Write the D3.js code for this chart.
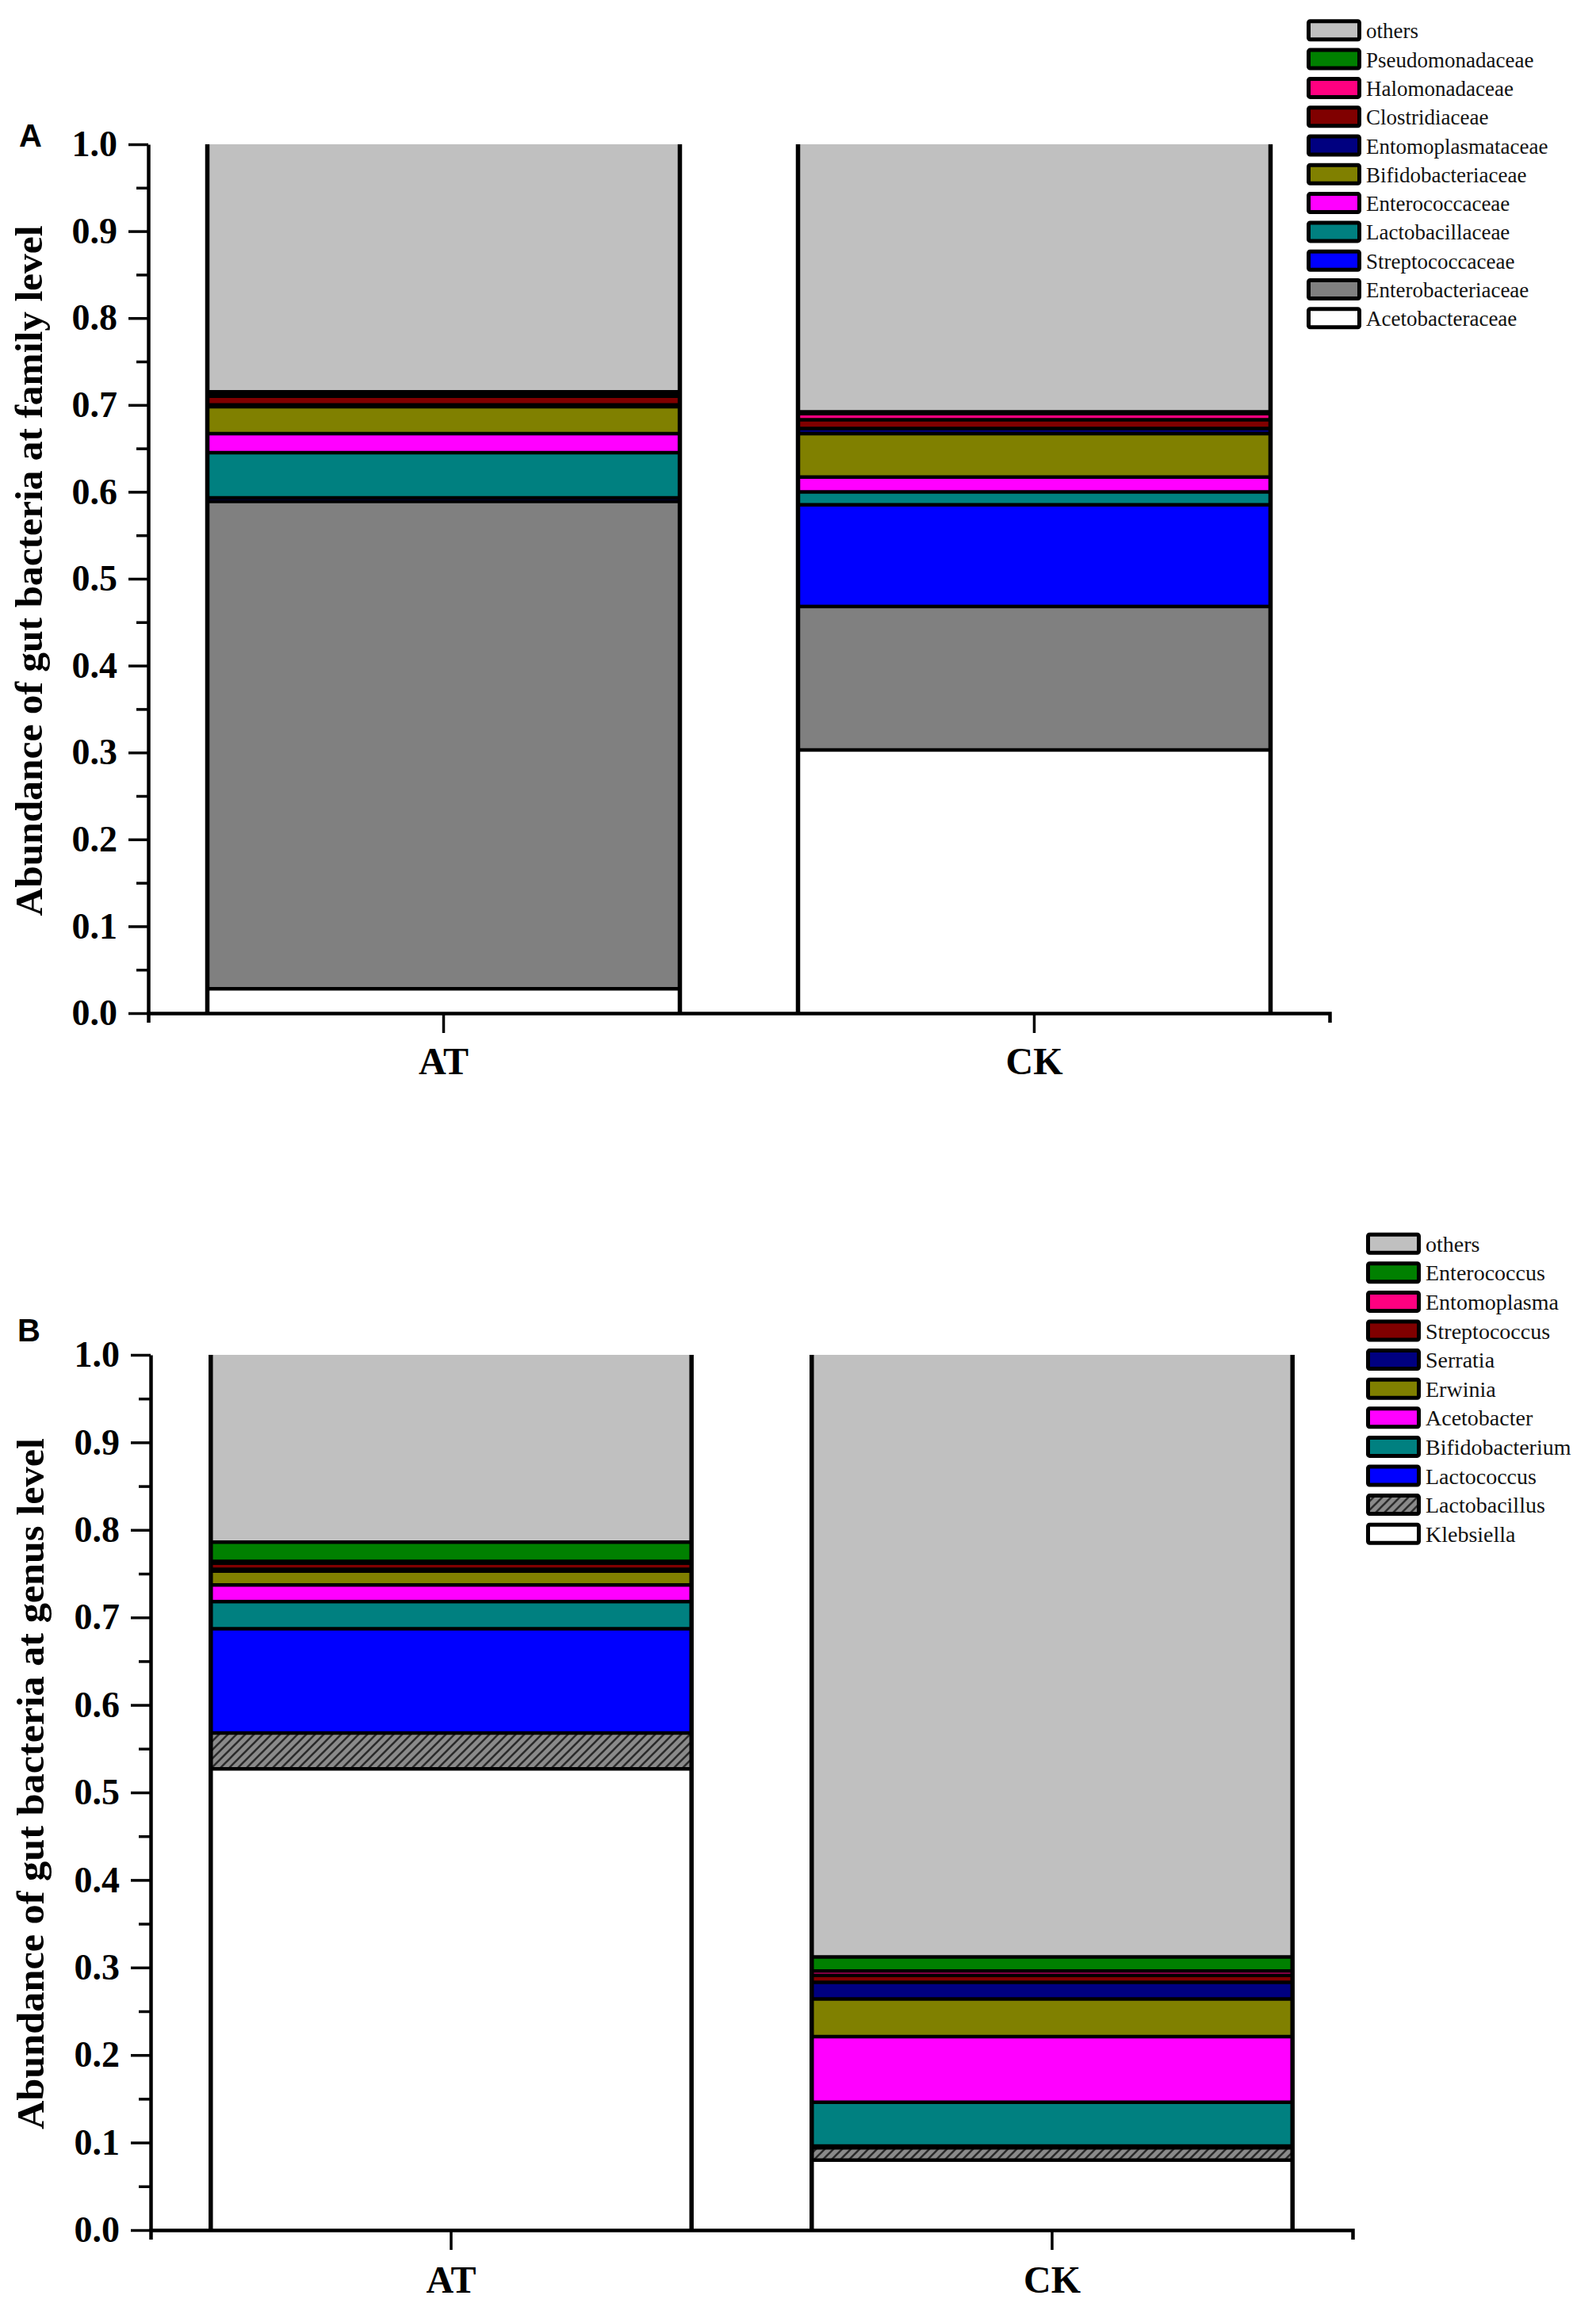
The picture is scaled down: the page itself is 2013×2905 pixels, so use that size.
<!DOCTYPE html>
<html><head><meta charset="utf-8">
<script src="https://cdn.jsdelivr.net/npm/d3@7"></script>
<style>body{margin:0;background:#fff}</style>
</head><body>
<svg id="chart" width="2013" height="2905" xmlns="http://www.w3.org/2000/svg"></svg>
<script>
// ---------- data ----------
const groups = ["AT", "CK"];

// family level, stacked bottom -> top
const familyNames = ["Acetobacteraceae","Enterobacteriaceae","Streptococcaceae","Lactobacillaceae","Enterococcaceae","Bifidobacteriaceae","Entomoplasmataceae","Clostridiaceae","Halomonadaceae","Pseudomonadaceae","others"];
const familyAT = [0.028, 0.561, 0.004, 0.052, 0.022, 0.031, 0.002, 0.010, 0.002, 0.003, 0.285];
const familyCK = [0.303, 0.165, 0.117, 0.015, 0.017, 0.050, 0.006, 0.010, 0.007, 0.002, 0.308];
const familyColors = ["#FFFFFF","#808080","#0000FF","#008080","#FF00FF","#808000","#000080","#800000","#FF0080","#008000","#C0C0C0"];

// genus level, stacked bottom -> top
const genusNames = ["Klebsiella","Lactobacillus","Lactococcus","Bifidobacterium","Acetobacter","Erwinia","Serratia","Streptococcus","Entomoplasma","Enterococcus","others"];
const genusAT = [0.527, 0.041, 0.119, 0.031, 0.019, 0.016, 0.002, 0.007, 0.002, 0.022, 0.214];
const genusCK = [0.080, 0.014, 0.002, 0.050, 0.075, 0.043, 0.019, 0.008, 0.005, 0.016, 0.688];
const genusColors = ["#FFFFFF","url(#hatch)","#0000FF","#008080","#FF00FF","#808000","#000080","#800000","#FF0080","#008000","#C0C0C0"];

const yMajorTicks = [0.0,0.1,0.2,0.3,0.4,0.5,0.6,0.7,0.8,0.9,1.0];
const yMinorTicks = [0.05,0.15,0.25,0.35,0.45,0.55,0.65,0.75,0.85,0.95];

// ---------- drawing ----------
const svg = d3.select("#chart");
const defs = svg.append("defs");
const pat = defs.append("pattern").attr("id","hatch").attr("patternUnits","userSpaceOnUse")
  .attr("width",11).attr("height",11);
pat.append("rect").attr("width",11).attr("height",11).attr("fill","#8a8a8a");
pat.append("path").attr("d","M-1,1 l2,-2 M0,11 l11,-11 M10,12 l2,-2")
  .attr("stroke","#2a2a2a").attr("stroke-width",2.6);

const SERIF = "'Liberation Serif','Times New Roman',serif";
const SANS = "'Liberation Sans',Arial,sans-serif";

function panel(cfg){
  const g = svg.append("g");
  const y = d3.scaleLinear().domain([0,1]).range([cfg.y0, cfg.y1]);
  const x = d3.scaleBand().domain(groups).range([cfg.x0, cfg.x1]).paddingInner(0.2).paddingOuter(0.1);

  const rows = groups.map((grp, gi) => {
    const row = {group: grp};
    cfg.names.forEach((n, i) => row[n] = cfg.values[gi][i]);
    return row;
  });
  const stack = d3.stack().keys(cfg.names)(rows);

  // segments
  const layers = g.append("g").selectAll("g").data(stack).join("g")
    .attr("fill", (d,i) => cfg.colors[i]);
  layers.selectAll("rect").data(d => d).join("rect")
    .attr("x", d => x(d.data.group))
    .attr("width", x.bandwidth())
    .attr("y", d => y(d[1]))
    .attr("height", d => Math.max(0, y(d[0]) - y(d[1])));

  // separators between segments
  const bounds = [];
  stack.forEach(layer => layer.forEach(d => { if (d[1] < 0.9999) bounds.push({g: d.data.group, v: d[1]}); }));
  g.append("g").selectAll("line").data(bounds).join("line")
    .attr("x1", d => x(d.g)).attr("x2", d => x(d.g) + x.bandwidth())
    .attr("y1", d => y(d.v)).attr("y2", d => y(d.v))
    .attr("stroke","#000").attr("stroke-width",4.5);
  // bar side edges
  const sides = [];
  groups.forEach(grp => { sides.push(x(grp)); sides.push(x(grp) + x.bandwidth()); });
  g.append("g").selectAll("line").data(sides).join("line")
    .attr("x1", d => d).attr("x2", d => d)
    .attr("y1", y(1)).attr("y2", y(0))
    .attr("stroke","#000").attr("stroke-width",5.5);

  // y axis (major)
  const ya = g.append("g").attr("transform",`translate(${cfg.x0},0)`)
    .call(d3.axisLeft(y).tickValues(yMajorTicks).tickSize(25).tickSizeOuter(0).tickPadding(14).tickFormat(d3.format(".1f")));
  ya.select(".domain").attr("stroke-width",4.5);
  ya.selectAll(".tick line").attr("stroke-width",3.5);
  ya.selectAll(".tick text").attr("font-family",SERIF).attr("font-weight","bold").attr("font-size",46).attr("fill","#000");
  // minor ticks
  const ym = g.append("g").attr("transform",`translate(${cfg.x0},0)`)
    .call(d3.axisLeft(y).tickValues(yMinorTicks).tickSize(15).tickFormat(""));
  ym.select(".domain").remove();
  ym.selectAll(".tick line").attr("stroke-width",3.5);

  // x axis
  const xa = g.append("g").attr("transform",`translate(0,${cfg.y0})`)
    .call(d3.axisBottom(x).tickSize(25).tickSizeOuter(12).tickPadding(cfg.xpad));
  xa.select(".domain").attr("stroke-width",4.5);
  xa.selectAll(".tick line").attr("stroke-width",3.5);
  xa.selectAll(".tick text").attr("font-family",SERIF).attr("font-weight","bold").attr("font-size",48).attr("fill","#000");

  // y title
  g.append("text")
    .attr("transform",`translate(${cfg.titleX},${cfg.titleY}) rotate(-90)`)
    .attr("text-anchor","middle")
    .attr("font-family",SERIF).attr("font-weight","bold").attr("font-size",48)
    .attr("textLength",cfg.titleLen).attr("lengthAdjust","spacingAndGlyphs")
    .text(cfg.title);

  // panel label
  g.append("text").attr("x",cfg.labelX).attr("y",cfg.labelY)
    .attr("font-family",SANS).attr("font-weight","bold").attr("font-size",40)
    .text(cfg.label);

  // legend (top = last series)
  const legItems = cfg.names.map((n,i) => ({name:n, color:cfg.colors[i]})).reverse();
  const lg = g.append("g");
  const li = lg.selectAll("g").data(legItems).join("g")
    .attr("transform",(d,i) => `translate(${cfg.legX},${cfg.legY + i*cfg.legStep})`);
  li.append("rect").attr("x",2.5).attr("y",-11.5).attr("width",64).attr("height",23).attr("rx",2)
    .attr("fill",d => d.color).attr("stroke","#000").attr("stroke-width",5);
  li.append("text").attr("x",cfg.legTextDx).attr("y",10)
    .attr("font-family",SERIF).attr("font-size",cfg.legFont).attr("fill","#111")
    .text(d => d.name);
}

panel({
  names: familyNames, values: [familyAT, familyCK], colors: familyColors,
  x0: 187, x1: 1677, y0: 1278, y1: 182, xpad: 18,
  title: "Abundance of gut bacteria at family level", titleX: 53, titleY: 720, titleLen: 871,
  label: "A", labelX: 24, labelY: 185,
  legX: 1648, legY: 38.3, legStep: 36.3, legTextDx: 75, legFont: 27
});

panel({
  names: genusNames, values: [genusAT, genusCK], colors: genusColors,
  x0: 190, x1: 1706, y0: 2813, y1: 1709, xpad: 20,
  title: "Abundance of gut bacteria at genus level", titleX: 55, titleY: 2250, titleLen: 872,
  label: "B", labelX: 22, labelY: 1692,
  legX: 1723, legY: 1568.7, legStep: 36.6, legTextDx: 75, legFont: 28
});
</script>
</body></html>
